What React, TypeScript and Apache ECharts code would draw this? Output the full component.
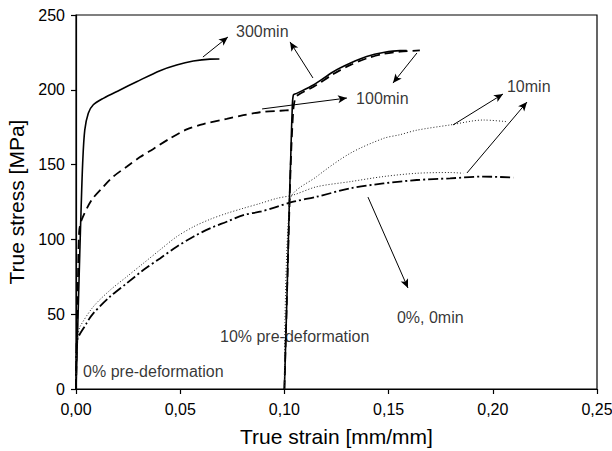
import React, { useEffect, useRef } from "react";
import * as echarts from "echarts";

// Tick values
const xTicks = [0, 0.05, 0.1, 0.15, 0.2, 0.25];
const yTicks = [0, 50, 100, 150, 200, 250];

// 0% pre-deformation curves [strain, stress]
const min300_0: [number, number][] = [
  [0, 0], [0.0008, 40], [0.0019, 95], [0.0024, 118], [0.0032, 151], [0.0042, 173],
  [0.0059, 184.3], [0.0083, 190], [0.0131, 194.3], [0.0211, 199.9], [0.0291, 205.4],
  [0.0403, 212.8], [0.0483, 216.6], [0.0563, 219.2], [0.0643, 220.5], [0.0688, 220.6],
];
const min100_0: [number, number][] = [
  [0, 0], [0.0008, 60], [0.0015, 105], [0.0027, 113], [0.0075, 126.3], [0.0131, 135.2],
  [0.0179, 142], [0.0243, 148.6], [0.0307, 155], [0.0371, 160.5], [0.0451, 167.5],
  [0.0531, 173.5], [0.0611, 177.1], [0.0723, 180.6], [0.0803, 183], [0.0883, 185],
  [0.098, 186], [0.104, 186.5],
];
const min10_0: [number, number][] = [
  [0, 0], [0.0005, 30], [0.0011, 37], [0.0019, 41.6], [0.0083, 55], [0.0163, 66],
  [0.0243, 75], [0.0323, 84], [0.0403, 93], [0.0483, 101.8], [0.0563, 108.4],
  [0.0643, 113.4], [0.0723, 117.4], [0.0803, 120.8], [0.0883, 124], [0.0963, 127.4],
  [0.1043, 129.7], [0.1155, 135.2], [0.1315, 138.6], [0.1475, 142], [0.1635, 144.2],
  [0.1795, 144.7], [0.1858, 144.2],
];
const min0_0: [number, number][] = [
  [0, 0], [0.0003, 30.7], [0.0051, 44], [0.0083, 50.6], [0.0163, 61.7], [0.0243, 70.6],
  [0.0323, 79.5], [0.0403, 87.3], [0.0483, 95.1], [0.0563, 101.8], [0.0643, 107.4],
  [0.0723, 111.8], [0.0803, 116.3], [0.0883, 118.5], [0.0963, 121.8], [0.1043, 125.2],
  [0.1155, 128.5], [0.1315, 134.1], [0.1475, 137.4], [0.1635, 139.7], [0.1795, 140.8],
  [0.1955, 142], [0.2099, 141.3],
];

// 10% pre-deformation curves
const min300_10: [number, number][] = [
  [0.1, 0], [0.1012, 60], [0.1024, 126], [0.103, 153], [0.1037, 185], [0.1043, 196.5],
  [0.1059, 197.6], [0.1139, 203.2], [0.1235, 212.1], [0.1315, 217.7], [0.1395, 222.2],
  [0.1475, 224.9], [0.1555, 226.2], [0.1587, 226.2],
];
const min100_10: [number, number][] = [
  [0.1, 0], [0.1025, 126], [0.1033, 160], [0.1042, 185], [0.1048, 192], [0.106, 196],
  [0.114, 202], [0.1235, 210.5], [0.1315, 216.5], [0.1395, 221], [0.1475, 224],
  [0.1555, 225.5], [0.165, 226.3],
];
const min10_10: [number, number][] = [
  [0.1, 0], [0.1027, 126.3], [0.1155, 142], [0.1315, 157.5], [0.1475, 167.5],
  [0.1555, 170], [0.1635, 173], [0.1795, 176.5], [0.1955, 179.8], [0.2067, 178.7],
];

// Annotation arrows (data coordinates): from -> to (arrowhead at "to")
const arrows: [[number, number], [number, number]][] = [
  [[0.0609, 221.9], [0.0729, 235.3]],
  [[0.1137, 207.9], [0.1027, 232.0]],
  [[0.0893, 187.2], [0.130, 194.5]],
  [[0.1636, 224.6], [0.1521, 204.5]],
  [[0.1809, 176.5], [0.2049, 197.2]],
  [[0.1876, 144.4], [0.2164, 191.8]],
  [[0.1401, 128.3], [0.1593, 67.5]],
];
// Annotation labels: [x, y, text] (left edge, vertical middle)
const labels: [number, number, string][] = [
  [0.0768, 239.3, "300min"],
  [0.1344, 194.5, "100min"],
  [0.2068, 201.9, "10min"],
  [0.154, 48.1, "0%, 0min"],
  [0.0691, 35.4, "10% pre-deformation"],
  [0.0034, 12.0, "0% pre-deformation"],
];

const FONT = "Arial, 'Liberation Sans', sans-serif";

export default function App() {
  const ref = useRef<HTMLDivElement>(null);
  useEffect(() => {
    if (!ref.current) return;
    const chart = echarts.init(ref.current, undefined, { renderer: "svg" });
    const solid = { color: "#000", width: 1.6, type: "solid" as any };
    const dashed = { color: "#000", width: 1.8, type: [9, 5] as any };
    const dotted = { color: "#222", width: 1, type: [1, 2] as any };
    const dashDot = { color: "#000", width: 1.8, type: [10, 3, 2, 3] as any };
    const mk = (name: string, data: any, ls: any) => ({
      name,
      type: "line",
      data,
      showSymbol: false,
      symbol: "none",
      smooth: 0.3,
      lineStyle: ls,
      z: 3,
    });
    chart.setOption({
      animation: false,
      grid: {
        left: 76,
        right: 15,
        top: 15,
        bottom: 62,
        show: true,
        borderColor: "#000",
        borderWidth: 1.2,
        containLabel: false,
        outerBoundsMode: "none",
      } as any,
      xAxis: {
        type: "value",
        min: xTicks[0],
        max: xTicks[xTicks.length - 1],
        interval: 0.05,
        name: "True strain [mm/mm]",
        nameLocation: "middle",
        nameGap: 37,
        nameTextStyle: { fontFamily: FONT, fontSize: 21, color: "#000" },
        axisLine: { show: true, lineStyle: { color: "#000", width: 1.2 } },
        axisTick: { show: true, length: 5, lineStyle: { color: "#000", width: 1.2 } },
        axisLabel: {
          fontFamily: FONT,
          fontSize: 16,
          color: "#000",
          margin: 12,
          formatter: (v: number) => v.toFixed(2).replace(".", ","),
        },
        splitLine: { show: false },
      },
      yAxis: {
        type: "value",
        min: yTicks[0],
        max: yTicks[yTicks.length - 1],
        interval: 50,
        name: "True stress [MPa]",
        nameLocation: "middle",
        nameGap: 46,
        nameTextStyle: { fontFamily: FONT, fontSize: 21, color: "#000" },
        axisLine: { show: true, lineStyle: { color: "#000", width: 1.2 } },
        axisTick: { show: true, length: 5, lineStyle: { color: "#000", width: 1.2 } },
        axisLabel: { fontFamily: FONT, fontSize: 16, color: "#000", margin: 11 },
        splitLine: { show: false },
      },
      series: [
        mk("300min 0%", min300_0, solid),
        mk("100min 0%", min100_0, dashed),
        mk("10min 0%", min10_0, dotted),
        mk("0min 0%", min0_0, dashDot),
        mk("300min 10%", min300_10, solid),
        mk("100min 10%", min100_10, dashed),
        mk("10min 10%", min10_10, dotted),
        {
          name: "annotations",
          type: "scatter",
          symbolSize: 0,
          data: labels.map((l) => ({ value: [l[0], l[1]], name: l[2] })),
          label: {
            show: true,
            position: [0, 0],
            align: "left",
            verticalAlign: "middle",
            formatter: (p: any) => p.name,
            fontFamily: FONT,
            fontSize: 16,
            color: "#000",
          },
          markLine: {
            silent: true,
            symbol: ["none", "arrow"],
            symbolSize: [6, 9],
            label: { show: false },
            lineStyle: { color: "#000", width: 1, type: "solid" },
            data: arrows.map((a) => [{ coord: a[0] }, { coord: a[1] }]),
          },
          z: 5,
        },
      ],
    });
    return () => chart.dispose();
  }, []);
  return (
    <div
      ref={ref}
      style={{ position: "fixed", left: 0, top: 0, width: 612, height: 451, background: "#fff" }}
    />
  );
}
